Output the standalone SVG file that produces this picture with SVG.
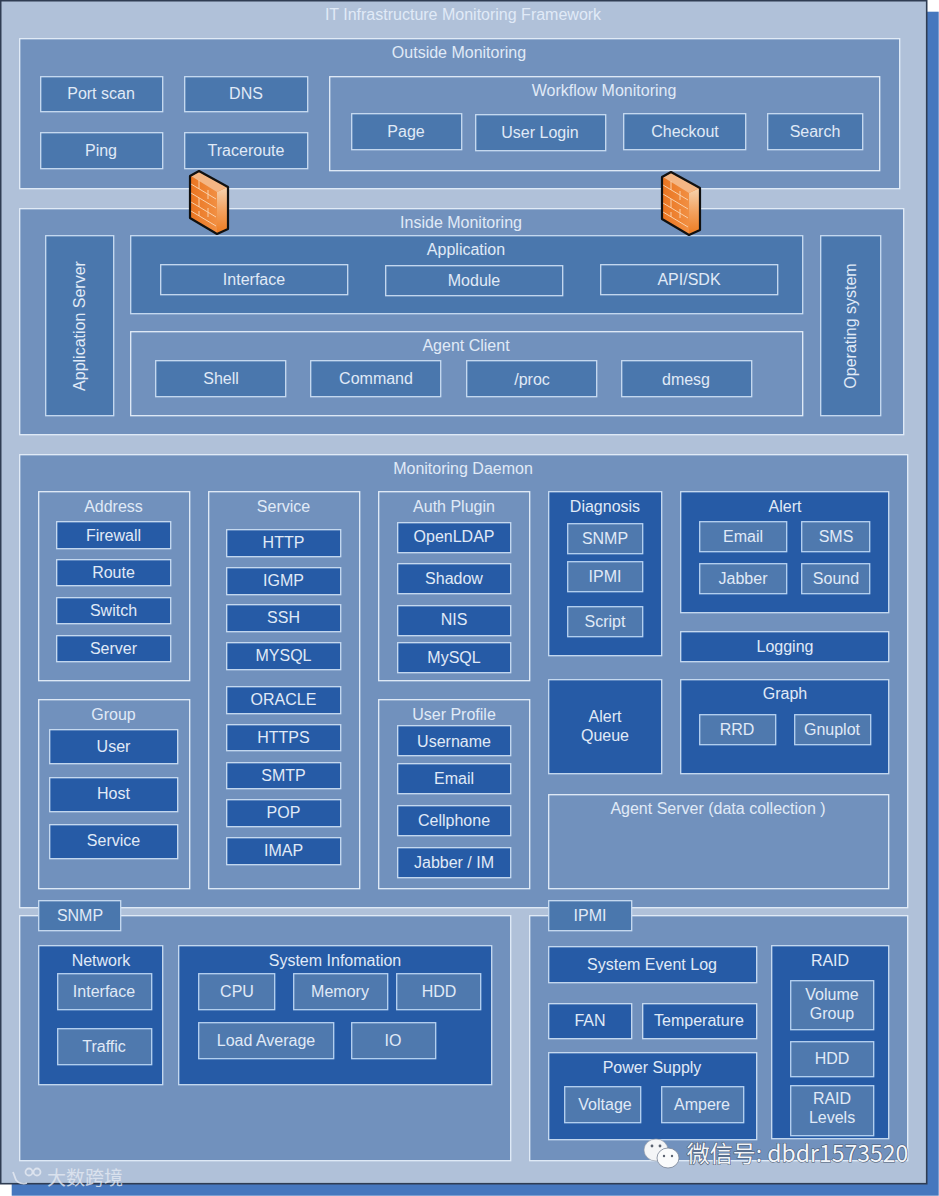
<svg xmlns="http://www.w3.org/2000/svg" width="939" height="1196" viewBox="0 0 939 1196">
<style>
text{font-family:"Liberation Sans",Arial,sans-serif;font-size:16px;fill:#e0eaf7;text-anchor:middle}
rect{stroke:#c9dcf2;stroke-width:1.3;transform:translate(-.3px,-.3px)}
.p{fill:#7191bd;stroke:#e3edf8}
.m{fill:#4a77ad}
.d{fill:#265ba6}
.s{fill:#4f79ae;stroke:#b7d3f2}
.mortar{fill:none;stroke:#f9cfa8;stroke-width:1}
.wm{font-family:"Noto Sans CJK SC","Liberation Sans",sans-serif}
</style>
<defs>
<linearGradient id="brick" x1="0" y1="0" x2="1" y2="0"><stop offset="0" stop-color="#ea7420"/><stop offset="1" stop-color="#f49a50"/></linearGradient>
<linearGradient id="side" x1="0" y1="0" x2="0" y2="1"><stop offset="0" stop-color="#f5d3b0"/><stop offset=".5" stop-color="#f3a260"/><stop offset="1" stop-color="#ee7a1e"/></linearGradient>
<g id="firewall">
<path d="M0 5L9 0L38 16V58L27 63L0 47Z" fill="url(#brick)"/>
<path d="M27 21L38 16V58L27 63Z" fill="url(#side)"/>
<path d="M1 5L9 1L37 16L27 21Z" fill="#f4b684"/>
<path class="mortar" d="M1 13L26 28M1 22L26 37M1 31L26 46M1 40L26 55M9 9V18M18 19V28M9 27V36M18 37V46M9 45V40"/>
<path d="M0 5L9 0L38 16V58L27 63L0 47Z" fill="none" stroke="#111" stroke-width="2.2" stroke-linejoin="round"/>
</g>
</defs>
<g id="background">
<rect x="12" y="12" width="927" height="1184" fill="#4677be" style="stroke:none"/>
<rect x="1" y="1" width="926" height="1183" fill="#b0c1d9" style="stroke:#2f3c52;stroke-width:1.6"/>
<text x="463" y="20">IT Infrastructure Monitoring Framework</text>
</g>
<g id="outside-monitoring"><rect class="p" x="20" y="39" width="880" height="150"/><text x="459" y="58">Outside Monitoring</text></g>
<g id="port-scan"><rect class="m" x="41" y="77" width="122" height="35"/><text x="101" y="99">Port scan</text></g>
<g id="dns"><rect class="m" x="185" y="77" width="123" height="35"/><text x="246" y="99">DNS</text></g>
<g id="ping"><rect class="m" x="41" y="133" width="122" height="36"/><text x="101" y="156">Ping</text></g>
<g id="traceroute"><rect class="m" x="185" y="133" width="123" height="36"/><text x="246" y="156">Traceroute</text></g>
<g id="workflow-monitoring"><rect class="p" x="330" y="77" width="550" height="94"/><text x="604" y="96">Workflow Monitoring</text></g>
<g id="page"><rect class="m" x="352" y="114" width="110" height="36"/><text x="406" y="137">Page</text></g>
<g id="user-login"><rect class="m" x="476" y="115" width="130" height="36"/><text x="540" y="138">User Login</text></g>
<g id="checkout"><rect class="m" x="624" y="114" width="122" height="36"/><text x="685" y="137">Checkout</text></g>
<g id="search"><rect class="m" x="768" y="114" width="95" height="36"/><text x="815" y="137">Search</text></g>

<g id="inside-monitoring"><rect class="p" x="20" y="209" width="884" height="226"/><text x="461" y="228">Inside Monitoring</text></g>
<g id="application-server"><rect class="m" x="46" y="236" width="68" height="180"/><text transform="translate(85 326) rotate(-90)">Application Server</text></g>
<g id="application"><rect class="m" x="131" y="236" width="672" height="78"/><text x="466" y="255">Application</text></g>
<g id="interface"><rect class="m" x="161" y="265" width="187" height="30"/><text x="254" y="285">Interface</text></g>
<g id="module"><rect class="m" x="386" y="266" width="177" height="30"/><text x="474" y="286">Module</text></g>
<g id="api-sdk"><rect class="m" x="601" y="265" width="177" height="30"/><text x="689" y="285">API/SDK</text></g>
<g id="agent-client"><rect class="p" x="131" y="332" width="672" height="84"/><text x="466" y="351">Agent Client</text></g>
<g id="shell"><rect class="m" x="156" y="361" width="130" height="36"/><text x="221" y="384">Shell</text></g>
<g id="command"><rect class="m" x="311" y="361" width="130" height="36"/><text x="376" y="384">Command</text></g>
<g id="proc"><rect class="m" x="467" y="361" width="130" height="36"/><text x="532" y="385">/proc</text></g>
<g id="dmesg"><rect class="m" x="622" y="361" width="130" height="36"/><text x="686" y="385">dmesg</text></g>
<g id="operating-system"><rect class="m" x="821" y="236" width="60" height="180"/><text transform="translate(856 326) rotate(-90)">Operating system</text></g>

<g id="monitoring-daemon"><rect class="p" x="20" y="455" width="888" height="453"/><text x="463" y="474">Monitoring Daemon</text></g>
<g id="address"><rect class="p" x="39" y="492" width="151" height="189"/><text x="113.500" y="512">Address</text></g>
<g id="firewall-item"><rect class="d" x="57" y="522" width="114" height="27"/><text x="113.500" y="541">Firewall</text></g>
<g id="route"><rect class="d" x="57" y="560" width="114" height="26"/><text x="113.500" y="578">Route</text></g>
<g id="switch"><rect class="d" x="57" y="598" width="114" height="26"/><text x="113.500" y="616">Switch</text></g>
<g id="server"><rect class="d" x="57" y="636" width="114" height="26"/><text x="113.500" y="654">Server</text></g>
<g id="group"><rect class="p" x="39" y="700" width="151" height="189"/><text x="113.500" y="720">Group</text></g>
<g id="user"><rect class="d" x="50" y="730" width="128" height="34"/><text x="113.500" y="752">User</text></g>
<g id="host"><rect class="d" x="50" y="778" width="128" height="34"/><text x="113.500" y="799">Host</text></g>
<g id="service-item"><rect class="d" x="50" y="825" width="128" height="34"/><text x="113.500" y="846">Service</text></g>
<g id="service"><rect class="p" x="209" y="492" width="151" height="397"/><text x="283.500" y="512">Service</text></g>
<g id="http"><rect class="d" x="227" y="530" width="114" height="27"/><text x="283.500" y="548">HTTP</text></g>
<g id="igmp"><rect class="d" x="227" y="568" width="114" height="27"/><text x="283.500" y="586">IGMP</text></g>
<g id="ssh"><rect class="d" x="227" y="605" width="114" height="27"/><text x="283.500" y="623">SSH</text></g>
<g id="mysql-service"><rect class="d" x="227" y="643" width="114" height="27"/><text x="283.500" y="661">MYSQL</text></g>
<g id="oracle"><rect class="d" x="227" y="687" width="114" height="27"/><text x="283.500" y="705">ORACLE</text></g>
<g id="https"><rect class="d" x="227" y="725" width="114" height="26"/><text x="283.500" y="743">HTTPS</text></g>
<g id="smtp"><rect class="d" x="227" y="763" width="114" height="26"/><text x="283.500" y="781">SMTP</text></g>
<g id="pop"><rect class="d" x="227" y="800" width="114" height="27"/><text x="283.500" y="818">POP</text></g>
<g id="imap"><rect class="d" x="227" y="838" width="114" height="27"/><text x="283.500" y="856">IMAP</text></g>
<g id="auth-plugin"><rect class="p" x="379" y="492" width="151" height="189"/><text x="454" y="512">Auth Plugin</text></g>
<g id="openldap"><rect class="d" x="398" y="523" width="113" height="30"/><text x="454" y="542">OpenLDAP</text></g>
<g id="shadow"><rect class="d" x="398" y="564" width="113" height="30"/><text x="454" y="584">Shadow</text></g>
<g id="nis"><rect class="d" x="398" y="606" width="113" height="30"/><text x="454" y="625">NIS</text></g>
<g id="mysql-auth"><rect class="d" x="398" y="643" width="113" height="30"/><text x="454" y="663">MySQL</text></g>
<g id="user-profile"><rect class="p" x="379" y="700" width="151" height="189"/><text x="454" y="720">User Profile</text></g>
<g id="username"><rect class="d" x="398" y="726" width="113" height="30"/><text x="454" y="747">Username</text></g>
<g id="email-profile"><rect class="d" x="398" y="764" width="113" height="30"/><text x="454" y="784">Email</text></g>
<g id="cellphone"><rect class="d" x="398" y="806" width="113" height="30"/><text x="454" y="826">Cellphone</text></g>
<g id="jabber-im"><rect class="d" x="398" y="848" width="113" height="30"/><text x="454" y="868">Jabber / IM</text></g>
<g id="diagnosis"><rect class="d" x="549" y="492" width="113" height="164"/><text x="605" y="512">Diagnosis</text></g>
<g id="snmp-diag"><rect class="s" x="568" y="524" width="75" height="30"/><text x="605" y="544">SNMP</text></g>
<g id="ipmi-diag"><rect class="s" x="568" y="562" width="75" height="30"/><text x="605" y="582">IPMI</text></g>
<g id="script"><rect class="s" x="568" y="607" width="75" height="30"/><text x="605" y="627">Script</text></g>
<g id="alert"><rect class="d" x="681" y="492" width="208" height="121"/><text x="785" y="512">Alert</text></g>
<g id="email-alert"><rect class="s" x="700" y="522" width="87" height="30"/><text x="743" y="542">Email</text></g>
<g id="sms"><rect class="s" x="802" y="522" width="68" height="30"/><text x="836" y="542">SMS</text></g>
<g id="jabber"><rect class="s" x="700" y="564" width="87" height="30"/><text x="743" y="584">Jabber</text></g>
<g id="sound"><rect class="s" x="802" y="564" width="68" height="30"/><text x="836" y="584">Sound</text></g>
<g id="logging"><rect class="d" x="681" y="632" width="208" height="30"/><text x="785" y="652">Logging</text></g>
<g id="alert-queue"><rect class="d" x="549" y="680" width="113" height="94"/><text x="605" y="722">Alert</text><text x="605" y="741">Queue</text></g>
<g id="graph"><rect class="d" x="681" y="680" width="208" height="94"/><text x="785" y="699">Graph</text></g>
<g id="rrd"><rect class="s" x="700" y="715" width="76" height="30"/><text x="737" y="735">RRD</text></g>
<g id="gnuplot"><rect class="s" x="795" y="715" width="76" height="30"/><text x="832" y="735">Gnuplot</text></g>
<g id="agent-server"><rect class="p" x="549" y="795" width="340" height="94"/><text x="718" y="814">Agent Server (data collection )</text></g>

<g id="snmp-panel"><rect class="p" x="20" y="916" width="491" height="245"/></g>
<g id="snmp"><rect class="m" x="39" y="901" width="82" height="30"/><text x="80" y="921">SNMP</text></g>
<g id="network"><rect class="d" x="39" y="946" width="124" height="139"/><text x="101" y="966">Network</text></g>
<g id="interface-net"><rect class="s" x="58" y="974" width="94" height="36"/><text x="104" y="997">Interface</text></g>
<g id="traffic"><rect class="s" x="58" y="1029" width="94" height="36"/><text x="104" y="1052">Traffic</text></g>
<g id="system-information"><rect class="d" x="179" y="946" width="313" height="139"/><text x="335" y="966">System Infomation</text></g>
<g id="cpu"><rect class="s" x="199" y="974" width="76" height="36"/><text x="237" y="997">CPU</text></g>
<g id="memory"><rect class="s" x="294" y="974" width="94" height="36"/><text x="340" y="997">Memory</text></g>
<g id="hdd-sys"><rect class="s" x="397" y="974" width="84" height="36"/><text x="439" y="997">HDD</text></g>
<g id="load-average"><rect class="s" x="199" y="1023" width="135" height="36"/><text x="266" y="1046">Load Average</text></g>
<g id="io"><rect class="s" x="352" y="1023" width="84" height="36"/><text x="393" y="1046">IO</text></g>

<g id="ipmi-panel"><rect class="p" x="530" y="916" width="378" height="245"/></g>
<g id="ipmi"><rect class="m" x="549" y="901" width="83" height="30"/><text x="590" y="921">IPMI</text></g>
<g id="system-event-log"><rect class="d" x="549" y="947" width="208" height="36"/><text x="652" y="970">System Event Log</text></g>
<g id="fan"><rect class="d" x="549" y="1004" width="83" height="35"/><text x="590" y="1026">FAN</text></g>
<g id="temperature"><rect class="d" x="643" y="1004" width="114" height="35"/><text x="699" y="1026">Temperature</text></g>
<g id="power-supply"><rect class="d" x="549" y="1053" width="208" height="87"/><text x="652" y="1073">Power Supply</text></g>
<g id="voltage"><rect class="s" x="565" y="1087" width="76" height="36"/><text x="605" y="1110">Voltage</text></g>
<g id="ampere"><rect class="s" x="662" y="1087" width="82" height="36"/><text x="702" y="1110">Ampere</text></g>
<g id="raid"><rect class="d" x="772" y="946" width="117" height="193"/><text x="830" y="966">RAID</text></g>
<g id="volume-group"><rect class="s" x="791" y="981" width="83" height="49"/><text x="832" y="1000">Volume</text><text x="832" y="1019">Group</text></g>
<g id="hdd-raid"><rect class="s" x="791" y="1042" width="83" height="35"/><text x="832" y="1064">HDD</text></g>
<g id="raid-levels"><rect class="s" x="791" y="1086" width="83" height="50"/><text x="832" y="1104">RAID</text><text x="832" y="1123">Levels</text></g>

<g id="connectors">
<use href="#firewall" x="190" y="171"/>
<use href="#firewall" x="662" y="172"/>
</g>
<g id="watermarks">
<ellipse cx="656" cy="1150" rx="12" ry="11" fill="#f4f5f7" stroke="#8a93a3" stroke-width=".6"/>
<ellipse cx="668" cy="1158" rx="11" ry="10" fill="#fafbfc" stroke="#7a8496" stroke-width=".8"/>
<circle cx="652" cy="1146" r="1.4" fill="#5a6270"/><circle cx="660" cy="1146" r="1.4" fill="#5a6270"/>
<circle cx="664" cy="1156" r="1.2" fill="#5a6270"/><circle cx="672" cy="1156" r="1.2" fill="#5a6270"/>
<text class="wm" x="797.500" y="1162" style="font-size:23px;fill:#f2f5fa;stroke:#47566c;stroke-width:1.1;paint-order:stroke">微信号: dbdr1573520</text>
<g fill="none" stroke="#e4e9f2" stroke-width="1.8" opacity=".85"><path d="M13 1172L16 1180A9 7 0 0 0 27 1183"/><circle cx="29" cy="1172" r="3.5"/><circle cx="37" cy="1172" r="3.5"/></g>
<text class="wm" x="85" y="1185" style="font-size:19px;fill:#e4e9f2;opacity:.8">大数跨境</text>
</g>
</svg>
